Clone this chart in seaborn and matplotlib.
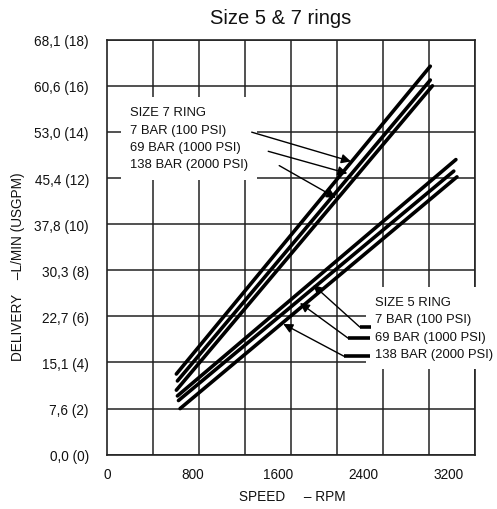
import numpy as np
import pandas as pd
import seaborn as sns
import matplotlib.pyplot as plt

# values (speed in rpm, delivery in USGPM)
size7_7bar_rpm = [650, 3030]
size7_7bar_gpm = [3.5, 16.85]
size7_69bar_rpm = [660, 3030]
size7_69bar_gpm = [3.2, 16.25]
size7_138bar_rpm = [650, 3050]
size7_138bar_gpm = [2.8, 16.0]

size5_7bar_rpm = [660, 3270]
size5_7bar_gpm = [2.55, 12.8]
size5_69bar_rpm = [670, 3250]
size5_69bar_gpm = [2.35, 12.3]
size5_138bar_rpm = [685, 3280]
size5_138bar_gpm = [2.0, 12.05]

x_ticks = [0, 800, 1600, 2400, 3200]
y_ticks = [0, 2, 4, 6, 8, 10, 12, 14, 16, 18]
y_tick_labels = ["0,0 (0)", "7,6 (2)", "15,1 (4)", "22,7 (6)", "30,3 (8)",
                 "37,8 (10)", "45,4 (12)", "53,0 (14)", "60,6 (16)", "68,1 (18)"]

size7_labels = ["SIZE 7 RING", "7 BAR (100 PSI)", "69 BAR (1000 PSI)", "138 BAR (2000 PSI)"]
size5_labels = ["SIZE 5 RING", "7 BAR (100 PSI)", "69 BAR (1000 PSI)", "138 BAR (2000 PSI)"]

# arrow tails / tips (pointing at each curve)
size7_arrow_tail = [(1356, 13.99), (1511, 13.16), (1614, 12.54)]
size7_arrow_tip = [(2286, 12.72), (2253, 12.20), (2146, 11.14)]
size5_arrow_tail = [(2371, 5.53), (2261, 5.05), (2221, 4.27)]
size5_arrow_tip = [(1933, 7.36), (1808, 6.58), (1652, 5.67)]
size5_leader_end = [2471, 2464, 2464]

series = {
    "s7_7": (size7_7bar_rpm, size7_7bar_gpm),
    "s7_69": (size7_69bar_rpm, size7_69bar_gpm),
    "s7_138": (size7_138bar_rpm, size7_138bar_gpm),
    "s5_7": (size5_7bar_rpm, size5_7bar_gpm),
    "s5_69": (size5_69bar_rpm, size5_69bar_gpm),
    "s5_138": (size5_138bar_rpm, size5_138bar_gpm),
}
df = pd.concat([pd.DataFrame({"rpm": r, "gpm": g, "curve": k}) for k, (r, g) in series.items()])

sns.set_theme(style="white")
plt.rcParams["font.family"] = ["Liberation Sans", "DejaVu Sans"]
fs = 9.8
fs_note = 9.4

fig = plt.figure(figsize=(4.97, 5.10), dpi=100)
ax = fig.add_axes([107 / 497, 1 - 455.7 / 510, 368 / 497, 415 / 510])

sns.lineplot(data=df, x="rpm", y="gpm", units="curve", estimator=None,
             color="black", lw=2.6, ax=ax, zorder=4, legend=False)

xmax = 3449
ax.set_xlim(0, xmax)
ax.set_ylim(0, 18)
ax.set_xticks(x_ticks)
ax.set_xticklabels([str(v) for v in x_ticks], fontsize=fs, color="#111111")
ax.set_xticks(np.linspace(0, xmax, 9), minor=True)
ax.set_yticks(y_ticks)
ax.set_yticklabels(y_tick_labels, fontsize=fs, color="#111111")
ax.tick_params(axis="both", which="both", length=0)
ax.tick_params(axis="x", pad=9)
ax.tick_params(axis="y", pad=13)
ax.xaxis.grid(True, which="minor", color="#222222", lw=1.1)
ax.xaxis.grid(False, which="major")
ax.yaxis.grid(True, which="major", color="#222222", lw=1.1)
ax.set_axisbelow(True)
for sp in ax.spines.values():
    sp.set_color("#222222")
    sp.set_linewidth(1.2)

ax.set_xlabel("SPEED     \u2013 RPM", fontsize=fs, color="#111111")
ax.xaxis.set_label_coords(0.504, -0.082)
ax.set_ylabel("DELIVERY    \u2013L/MIN (USGPM)", fontsize=fs, color="#111111")
ax.yaxis.set_label_coords(-0.222, 0.455)

fig.text(281 / 497, 1 - 19 / 510, "Size 5 & 7 rings", ha="center", va="center",
         fontsize=14.5, color="#111111")

# labels with white boxes that interrupt the grid
ax.text(216, 13.72, "\n".join(size7_labels), fontsize=fs_note, ha="left", va="center",
        linespacing=1.6, zorder=3, color="#111111",
        bbox=dict(boxstyle="square,pad=0.7", fc="white", ec="none"))
ax.text(2515, 5.49, "\n".join(size5_labels), fontsize=fs_note, ha="left", va="center",
        linespacing=1.6, zorder=3, clip_on=False, color="#111111",
        bbox=dict(boxstyle="square,pad=0.7", fc="white", ec="none"))

arrow_kw = dict(arrowstyle="-|>", color="black", lw=1.0, mutation_scale=14,
                shrinkA=0, shrinkB=0)
for tail, tip in zip(size7_arrow_tail, size7_arrow_tip):
    ax.annotate("", xy=tip, xytext=tail, arrowprops=arrow_kw, zorder=5)
for tail, tip, end in zip(size5_arrow_tail, size5_arrow_tip, size5_leader_end):
    ax.annotate("", xy=tip, xytext=tail, arrowprops=arrow_kw, zorder=5)
    ax.plot([tail[0], end], [tail[1], tail[1]], color="black", lw=2.6, zorder=5,
            solid_capstyle="butt")

fig.savefig("out.png", dpi=100)
